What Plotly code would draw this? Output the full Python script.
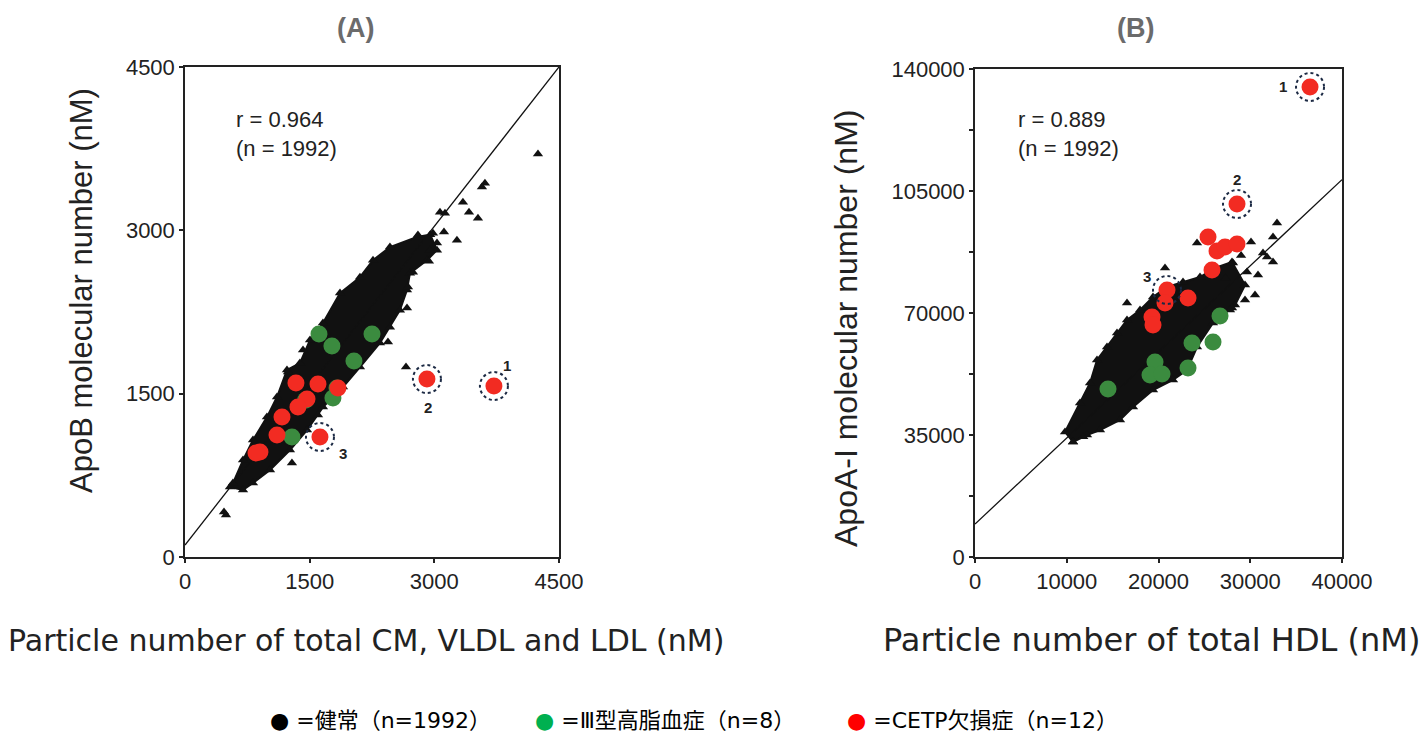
import plotly.graph_objects as go

# ---------------- Panel A: ApoB vs particle number of CM+VLDL+LDL ----------------
# dense core of the healthy group (outline of the cloud, nM)
a_core_x = [541, 577, 698, 818, 986, 1107, 1227, 1383, 1504, 1660, 1865, 2105, 2262, 2466, 2791, 2950,
            3032, 2911, 2707, 2671, 2586, 2466, 2346, 2105, 1901, 1660, 1468, 1263, 1023, 818, 698]
a_core_y = [643, 679, 890, 1074, 1285, 1469, 1717, 1781, 1992, 2148, 2424, 2570, 2726, 2846, 2938, 2960,
            2818, 2726, 2607, 2451, 2267, 2111, 1965, 1744, 1561, 1377, 1166, 982, 799, 679, 615]
# scattered healthy points
a_norm_x = [4247, 3609, 3573, 3344, 3417, 3525, 3068, 3128, 3116, 3272, 2984, 2803, 2947, 3032, 2935,
            2743, 2683, 2442, 2659, 1600, 1287, 493, 469, 2671, 1420, 1239]
a_norm_y = [3700, 3433, 3397, 3259, 3167, 3112, 3167, 3158, 2984, 2910, 2974, 2956, 2818, 2883, 2717,
            2616, 2479, 1974, 1744, 1304, 863, 386, 413, 2286, 1900, 1698]
# type III hyperlipidemia (n=8)
a_t3_x = [1612, 1768, 2250, 2033, 1829, 1780, 1287, 1450]
a_t3_y = [2047, 1937, 2047, 1800, 1551, 1460, 1102, 1440]
# CETP deficiency (n=12)
a_cetp_x = [1335, 1600, 1840, 1468, 1359, 1167, 1107, 902, 854, 1624, 2911, 3717]
a_cetp_y = [1597, 1588, 1551, 1450, 1377, 1285, 1120, 964, 955, 1102, 1634, 1570]
a_circ_idx = [11, 10, 9]          # circled cases 1, 2, 3
a_circ_lab = ["1", "2", "3"]
a_lab_dx = [13, 1, 23]
a_lab_dy = [21, -28, -16]
a_fit = (110, 0.9756)
a_r_text = "r = 0.964<br>(n = 1992)"
a_ticks = [0, 1500, 3000, 4500]
a_ticktext = ["0", "1500", "3000", "4500"]

# ---------------- Panel B: ApoA-I vs particle number of HDL ----------------
b_core_x = [9810, 11445, 12535, 13298, 14388, 15478, 16568, 17985, 19402, 20928, 22672, 24525, 26160, 28013,
            29430, 28340, 25942, 24198, 23108, 21582, 19402, 17222, 15805, 13625, 12208, 10682]
b_core_y = [35863, 44183, 49921, 56519, 60249, 64266, 67995, 70864, 74594, 77463, 78898, 80332, 82913, 84636,
            78037, 72299, 67135, 60249, 53650, 50781, 47912, 43035, 39305, 36436, 35002, 32993]
b_norm_x = [32918, 32482, 30084, 31392, 32482, 29648, 30847, 30520, 29430, 28013, 24198, 20710, 16568,
            28122, 31828, 27795, 10682, 29000, 27300, 11800]
b_norm_y = [95825, 91808, 90374, 87218, 84636, 81767, 80906, 75168, 73733, 71438, 90087, 82913, 72873,
            84349, 86070, 70864, 32993, 86500, 80000, 34500]
b_t3_x = [26705, 23653, 25942, 19620, 19075, 20383, 23217, 14497]
b_t3_y = [69143, 61397, 61684, 55946, 52216, 52503, 54224, 48199]
b_cetp_x = [36515, 28558, 25397, 26378, 27250, 28558, 25833, 20928, 20710, 23217, 19293, 19402]
b_cetp_y = [134843, 101276, 91808, 87791, 88939, 89800, 82340, 76601, 72873, 74307, 68856, 66560]
b_circ_idx = [0, 1, 7]
b_circ_lab = ["1", "2", "3"]
b_lab_dx = [-27, 0, -20]
b_lab_dy = [0, 24, 13]
b_fit = (9450, 2.47)
b_r_text = "r = 0.889<br>(n = 1992)"
b_xticks = [0, 10000, 20000, 30000, 40000]
b_xticktext = ["0", "10000", "20000", "30000", "40000"]
b_yticks = [0, 35000, 70000, 105000, 140000]
b_yticktext = ["0", "35000", "70000", "105000", "140000"]
b_yminor = [17500, 52500, 87500, 122500]

a_range = [0, 4500]
b_xrange = [0, 40000]
b_yrange = [0, 140000]

GREEN = "#3b8b3f"
RED = "#f22b22"
ARIAL = "Liberation Sans, Arial, sans-serif"

fig = go.Figure()


def add_panel(xa, ya, core_x, core_y, nx, ny, t3x, t3y, cx, cy, fit, xr):
    fig.add_trace(go.Scatter(x=core_x + core_x[:1], y=core_y + core_y[:1], mode="lines", fill="toself",
                             fillcolor="#111111", line=dict(color="#111111", width=2),
                             xaxis=xa, yaxis=ya, hoverinfo="skip"))
    fig.add_trace(go.Scatter(x=core_x + nx, y=core_y + ny, mode="markers",
                             marker=dict(symbol="triangle-up", size=9, color="#111111"),
                             xaxis=xa, yaxis=ya))
    lx = [xr[0], xr[1]]
    ly = [fit[0] + fit[1] * v for v in lx]
    fig.add_trace(go.Scatter(x=lx, y=ly, mode="lines", line=dict(color="#111111", width=1.3),
                             xaxis=xa, yaxis=ya, hoverinfo="skip"))
    fig.add_trace(go.Scatter(x=t3x, y=t3y, mode="markers",
                             marker=dict(symbol="circle", size=17, color=GREEN),
                             xaxis=xa, yaxis=ya))
    fig.add_trace(go.Scatter(x=cx, y=cy, mode="markers",
                             marker=dict(symbol="circle", size=17, color=RED),
                             xaxis=xa, yaxis=ya))


add_panel("x", "y", a_core_x, a_core_y, a_norm_x, a_norm_y, a_t3_x, a_t3_y, a_cetp_x, a_cetp_y, a_fit, a_range)
add_panel("x2", "y2", b_core_x, b_core_y, b_norm_x, b_norm_y, b_t3_x, b_t3_y, b_cetp_x, b_cetp_y, b_fit, b_xrange)

shapes = []
annotations = []


def circles(xref, yref, cx, cy, idx, labs, dxs, dys):
    for i, lab, dx, dy in zip(idx, labs, dxs, dys):
        shapes.append(dict(type="circle", xref=xref, yref=yref, xsizemode="pixel", ysizemode="pixel",
                           xanchor=cx[i], yanchor=cy[i], x0=-14, x1=14, y0=-14, y1=14,
                           line=dict(color="#1c2a44", width=2, dash="dot")))
        annotations.append(dict(x=cx[i], y=cy[i], xref=xref, yref=yref, text="<b>%s</b>" % lab,
                                showarrow=False, xshift=dx, yshift=dy, xanchor="center", yanchor="middle",
                                font=dict(family=ARIAL, size=15, color="#222222")))


circles("x", "y", a_cetp_x, a_cetp_y, a_circ_idx, a_circ_lab, a_lab_dx, a_lab_dy)
circles("x2", "y2", b_cetp_x, b_cetp_y, b_circ_idx, b_circ_lab, b_lab_dx, b_lab_dy)

W, H = 1426, 737


def px(x):
    return x / W


def py(y):
    return 1 - y / H


def note(x, y, text, size, family=ARIAL, color="#222222", xanchor="center", angle=0, align="center"):
    annotations.append(dict(x=px(x), y=py(y), xref="paper", yref="paper", text=text, showarrow=False,
                            xanchor=xanchor, yanchor="middle", align=align, textangle=angle,
                            font=dict(family=family, size=size, color=color)))


# panel titles
note(355, 28, "<b>(A)</b>", 27, color="#6b6b6b")
note(1135, 28, "<b>(B)</b>", 27, color="#6b6b6b")
# r / n texts
note(234, 134, a_r_text, 22, xanchor="left", align="left")
note(1016, 134, b_r_text, 22, xanchor="left", align="left")
# axis titles
note(81, 291, "ApoB molecular number (nM)", 31, angle=-90)
note(846, 328, "ApoA-I molecular number (nM)", 32, angle=-90)
note(366, 640, "Particle number of total CM, VLDL and LDL (nM)", 30, family="DejaVu Sans, Verdana, sans-serif")
note(1151, 640, "Particle number of total HDL (nM)", 32, family="DejaVu Sans, Verdana, sans-serif")
# bottom legend
LEGF = "DejaVu Sans, Noto Sans CJK JP, sans-serif"
leg_items = [("#000000", "=健常（n=1992）", 268), ("#00b050", "=Ⅲ型高脂血症（n=8）", 533),
             ("#ff0000", "=CETP欠損症（n=12）", 845)]
for col, txt, x0 in leg_items:
    note(x0, 720, "<span style='color:%s'>●</span> %s" % (col, txt), 22, family=LEGF, color="#000000",
         xanchor="left")

axis_common = dict(showline=True, mirror=True, linecolor="#222222", linewidth=1.5, showgrid=False,
                   zeroline=False, ticks="outside", ticklen=4, tickwidth=2, tickcolor="#222222",
                   automargin=False, tickfont=dict(family=ARIAL, size=22, color="#222222"))

fig.update_layout(
    width=W, height=H, autosize=False, margin=dict(l=0, r=0, t=0, b=0, pad=0, autoexpand=False),
    paper_bgcolor="white", plot_bgcolor="white", showlegend=False,
    xaxis=dict(domain=[px(185), px(559)], range=a_range, tickvals=a_ticks, ticktext=a_ticktext, anchor="y",
               **axis_common),
    yaxis=dict(domain=[py(557), py(67)], range=a_range, tickvals=a_ticks, ticktext=a_ticktext, anchor="x",
               **axis_common),
    xaxis2=dict(domain=[px(975), px(1342)], range=b_xrange, tickvals=b_xticks, ticktext=b_xticktext,
                anchor="y2", **axis_common),
    yaxis2=dict(domain=[py(557), py(69)], range=b_yrange, tickvals=b_yticks, ticktext=b_yticktext,
                anchor="x2", minor=dict(tickvals=b_yminor, ticks="outside", ticklen=4,
                                        tickwidth=2, tickcolor="#222222"),
                **axis_common),
    shapes=shapes, annotations=annotations,
)

fig.write_html("out.html", config={"responsive": False})
